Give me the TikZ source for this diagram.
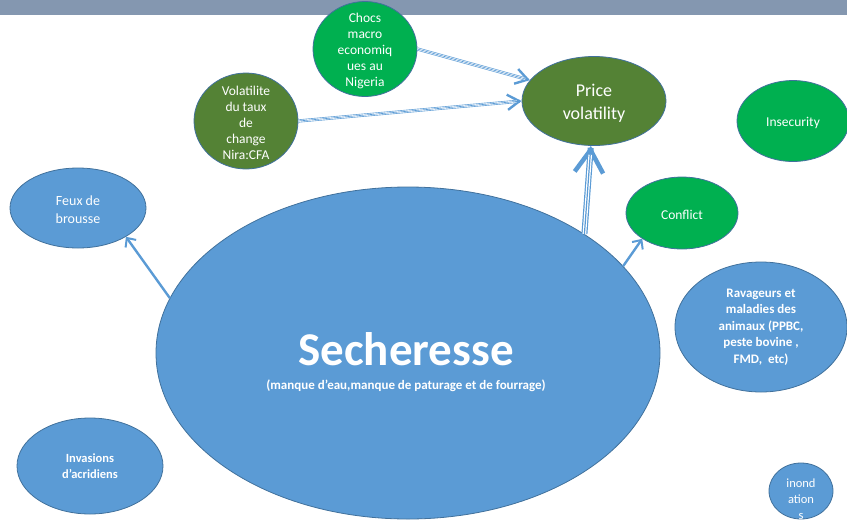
\documentclass[tikz,border=0pt]{standalone}
\usepackage{fontspec}
\setmainfont{Carlito}
\usetikzlibrary{shapes.geometric,arrows.meta}
\definecolor{band}{HTML}{8497B0}
\definecolor{skyfill}{HTML}{5B9BD5}
\definecolor{brightgreen}{HTML}{00B050}
\definecolor{olive}{HTML}{548235}
\definecolor{rim}{HTML}{41719C}
\begin{document}
\begin{tikzpicture}[x=1pt,y=-1pt,
  blob/.style={ellipse, draw=rim, line width=0.8pt, inner sep=0pt, fill=#1},
  lbl/.style={text=white, align=center, inner sep=0pt, yshift=-2pt,
    font=\fontsize{13.5}{16}\selectfont},
  lblbold/.style={text=white, align=center, inner sep=0pt,
    font=\fontsize{13}{16.5}\selectfont\bfseries},
  link/.style={draw=skyfill, line width=2.4pt,
    -{Straight Barb[length=7pt,width=13pt,line width=2pt]}},
  triple/.style={draw=skyfill, line width=1pt,
    -{Straight Barb[length=#1*0.75pt,width=#1*0.95pt,line width=#1*0.15pt]},
    preaction={draw=skyfill, arrows=-, line width=#1*0.2pt, shorten >=2pt},
    postaction={draw=white, arrows=-, line width=#1*0.12pt, shorten >=#1*0.3pt},
    postaction={draw=skyfill, arrows=-, line width=#1*0.04pt, shorten >=#1*0.3pt}},
]
\useasboundingbox (0,0) rectangle (847,523);
% header strip
\fill[band] (0,0) rectangle (847,15);

% drought and its neighbours
\node[blob=skyfill, minimum width=504pt, minimum height=332pt] (sech) at (408,353) {};
\node[blob=skyfill, minimum width=136pt, minimum height=80pt] (feux) at (78,208) {};
\node[blob=skyfill, minimum width=146pt, minimum height=96pt] (invas) at (90,466) {};
\node[blob=skyfill, minimum width=172pt, minimum height=130pt] (ravag) at (761,327) {};
\node[blob=skyfill, minimum width=64pt, minimum height=56pt] (inond) at (801,491) {};

% market side
\node[blob=brightgreen, minimum width=104pt, minimum height=95pt] (chocs) at (365,49) {};
\node[blob=olive, minimum width=104pt, minimum height=96pt] (taux) at (246,121) {};
\node[blob=olive, minimum width=144pt, minimum height=89pt] (price) at (594,101) {};
\node[blob=brightgreen, minimum width=112pt, minimum height=81pt] (insec) at (793,121) {};
\node[blob=brightgreen, minimum width=112pt, minimum height=72pt] (confl) at (682,213) {};

% labels
\node[lbl] (chocs-t) at (chocs.center) {Chocs\\macro\\economiq\\ues au\\Nigeria};
\node[lbl] (taux-t) at (taux.center) {Volatilite\\du taux\\de\\change\\Nira:CFA};
\node[lbl, font=\fontsize{18}{23}\selectfont] (price-t) at (price.center) {Price\\volatility};
\node[lbl] (insec-t) at (insec.center) {Insecurity};
\node[lbl] (confl-t) at (confl.center) {Conflict};
\node[lbl, font=\fontsize{14}{18}\selectfont] (feux-t) at (feux.center) {Feux de\\brousse};
\node[lblbold] (ravag-t) at (ravag.center) {Ravageurs et\\maladies des\\animaux (PPBC,\\peste bovine ,\\FMD,\ \ etc)};
\node[lblbold, font=\fontsize{12.5}{16}\selectfont\bfseries] (invas-t) at (invas.center) {Invasions\\d’acridiens};
\node[lbl, font=\fontsize{12.5}{16}\selectfont] (inond-t) at ([yshift=-6pt]inond.center) {inond\\ation\\s};
\node[text=white, inner sep=0pt, font=\fontsize{47}{50}\selectfont\bfseries, anchor=base] (sech-t) at (406,365) {Secheresse};
\node[text=white, inner sep=0pt, font=\fontsize{13}{15}\selectfont\bfseries, anchor=base] (sech-s) at (406,389) {(manque d’eau,manque de paturage et de fourrage)};

% connectors
\draw[triple=16] (chocs.east) -- (price.162);
\draw[triple=16] (taux.east) -- (price.west);
\draw[triple=30] (sech.34) -- (price.266);
\draw[link] (sech.22) -- (confl.213);
\draw[link] (sech.167) -- (feux.329);
\end{tikzpicture}
\end{document}
